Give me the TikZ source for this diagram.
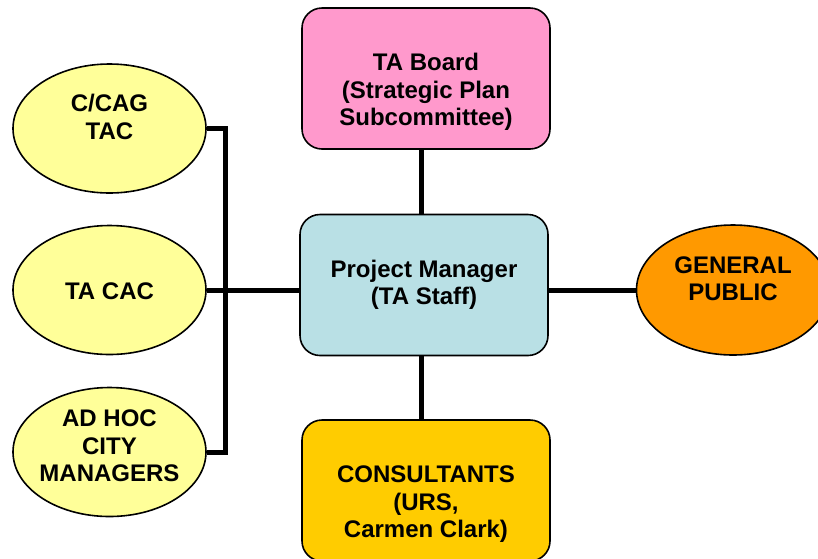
\documentclass[tikz,border=0pt]{standalone}
\usepackage{fontspec}
\setmainfont{Liberation Sans}
\usetikzlibrary{shapes.geometric}
\definecolor{ovalyellow}{HTML}{FFFF99}
\definecolor{boardpink}{HTML}{FF99CC}
\definecolor{staffblue}{HTML}{B9E0E5}
\definecolor{publicorange}{HTML}{FF9900}
\definecolor{consultgold}{HTML}{FFCC00}
\begin{document}
\begin{tikzpicture}[x=1pt,y=-1pt,
  oval/.style={ellipse, draw=black, line width=1.6pt, minimum width=193pt, minimum height=129pt, inner sep=0pt},
  card/.style={rectangle, rounded corners=20pt, draw=black, line width=1.6pt, minimum width=248pt, minimum height=141pt, inner sep=0pt},
  caption/.style={font=\bfseries\fontsize{24}{27.5}\selectfont, align=center, text=black, inner sep=0pt},
  link/.style={line width=5pt}]
\clip (0,0) rectangle (818,558);
\useasboundingbox (0,0) rectangle (818,558);

% left-hand committees
\node[oval, fill=ovalyellow] (cag) at (109.5,128.5) {};
\node[caption] (cagtext) at (109.5,117) {C/CAG\\TAC};
\node[oval, fill=ovalyellow] (tacac) at (109.5,290) {};
\node[caption] (tacactext) at (109.5,291) {TA CAC};
\node[oval, fill=ovalyellow] (adhoc) at (109.5,452) {};
\node[caption] (adhoctext) at (109.5,446) {AD HOC\\CITY\\MANAGERS};

% central column
\node[card, fill=boardpink] (board) at (426,78.5) {};
\node[caption] (boardtext) at (426,92) {TA Board\\(Strategic Plan\\Subcommittee)};
\node[card, fill=staffblue] (pm) at (424,285) {};
\node[caption] (pmtext) at (424,285) {Project Manager\\(TA Staff)};
\node[card, fill=consultgold] (cons) at (426,490.5) {};
\node[caption] (constext) at (426,504.5) {CONSULTANTS\\(URS,\\Carmen Clark)};

% right-hand public
\node[oval, fill=publicorange, minimum height=130pt] (gp) at (733,290) {};
\node[caption] (gptext) at (733,278.5) {GENERAL\\PUBLIC};

% connectors
\coordinate (bus) at (225,290);
\draw[link] (cag.east) -| (bus);
\draw[link] (adhoc.east) -| (bus);
\draw[link] (tacac.east) -- (tacac.east -| pm.west);
\draw[link] ([xshift=-3pt]pm.north) -- ([xshift=-3pt]pm.north |- board.south);
\draw[link] ([xshift=-3pt]pm.south) -- ([xshift=-3pt]pm.south |- cons.north);
\draw[link] (pm.east |- gp.west) -- (gp.west);
\end{tikzpicture}
\end{document}
